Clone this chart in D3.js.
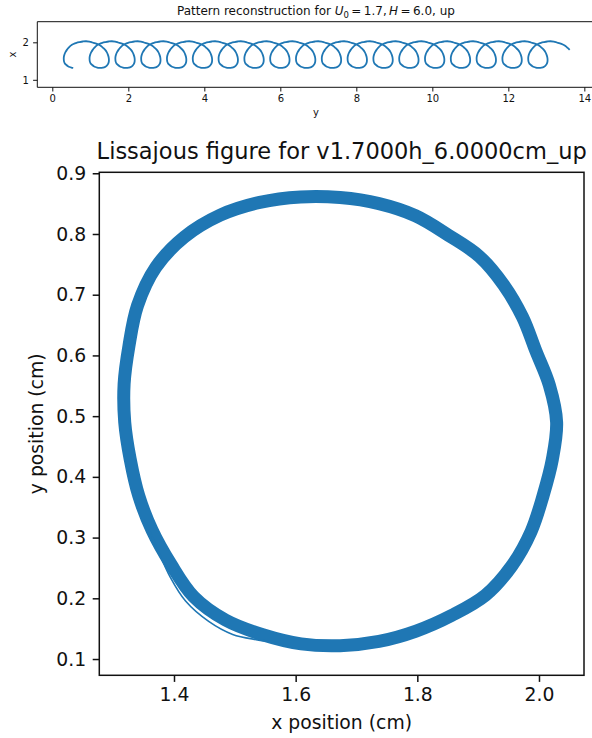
<!DOCTYPE html>
<html>
<head>
<meta charset="utf-8">
<script src="https://cdn.jsdelivr.net/npm/d3@7"></script>
<style>
  body { margin: 0; background: #fff; }
  svg { display: block; }
  text { font-family: "DejaVu Sans", sans-serif; fill: #111; }
</style>
</head>
<body>
<script>
// Tracked orbit of one cycle (cm), sampled counter-clockwise from the leftmost point.
const orbitX = [1.319,1.328,1.342,1.364,1.395,1.432,1.485,1.546,1.609,1.673,1.737,1.798,
                1.857,1.912,1.955,1.987,2.007,2.022,2.029,2.017,1.995,1.973,1.942,1.902,
                1.851,1.797,1.737,1.673,1.608,1.541,1.476,1.417,1.370,1.340,1.326,1.318];
const orbitY = [0.490,0.429,0.369,0.312,0.256,0.203,0.164,0.140,0.125,0.122,0.129,0.146,
                0.172,0.205,0.253,0.310,0.370,0.429,0.490,0.551,0.607,0.663,0.716,0.763,
                0.798,0.830,0.850,0.860,0.861,0.852,0.831,0.795,0.745,0.682,0.616,0.553];
// Time of each orbit sample within the cycle (fraction of one period).
const orbitPhase = [0.0000,0.0195,0.0392,0.0595,0.0804,0.1023,0.1253,0.1496,0.1752,0.2023,
                    0.2308,0.2607,0.2920,0.3245,0.3582,0.3928,0.4281,0.4639,0.5000,0.5361,
                    0.5719,0.6072,0.6418,0.6755,0.7080,0.7393,0.7692,0.7978,0.8248,0.8504,
                    0.8747,0.8977,0.9196,0.9405,0.9608,0.9805];

// One cycle that strays outside the main band on the lower left.
const strayX = [1.352,1.371,1.394,1.419,1.457,1.4965,1.535,1.570];
const strayY = [0.330,0.285,0.2345,0.1955,0.162,0.1405,0.132,0.1275];

// Reconstruction parameters: drift along y per cycle, start offset, cycles drawn.
const driftPerCycle = 0.679;
const startOffset = 0.06;
const fullCycles = 18;
const lastCycleSamples = 26;

// Tick values
const topXTicks = [0, 2, 4, 6, 8, 10, 12, 14];
const topYTicks = [1, 2];
const lisXTicks = [1.4, 1.6, 1.8, 2.0];
const lisYTicks = [0.1, 0.2, 0.3, 0.4, 0.5, 0.6, 0.7, 0.8, 0.9];

const W = 592, H = 738;
const blue = "#1f77b4";
const ink = "#111";
const svg = d3.select("body").append("svg").attr("width", W).attr("height", H);

// ---------- Pattern reconstruction panel ----------
const patBox = { left: 37.3, right: 594.6, top: 21.7, bottom: 87.3 };
const tx = d3.scaleLinear().domain([-0.395, 14.27]).range([patBox.left, patBox.right]);
const ty = d3.scaleLinear().domain([0.80, 2.55]).range([patBox.bottom, patBox.top]);

const N = orbitX.length;
const pattern = d3.range(fullCycles * N + lastCycleSamples).map(i => {
  const k = i % N, cycle = Math.floor(i / N);
  return { h: orbitY[k] + startOffset + driftPerCycle * (cycle + orbitPhase[k]), v: orbitX[k] };
});

svg.append("defs").append("clipPath").attr("id", "clipTop")
  .append("rect").attr("x", patBox.left).attr("y", patBox.top)
  .attr("width", patBox.right - patBox.left).attr("height", patBox.bottom - patBox.top);

svg.append("path")
  .datum(pattern)
  .attr("clip-path", "url(#clipTop)")
  .attr("fill", "none")
  .attr("stroke", blue)
  .attr("stroke-width", 1.8)
  .attr("stroke-linejoin", "round")
  .attr("d", d3.line().x(d => tx(d.h)).y(d => ty(d.v)).curve(d3.curveCatmullRom));

const topXAxis = svg.append("g")
  .attr("transform", `translate(0,${patBox.bottom})`)
  .call(d3.axisBottom(tx).tickValues(topXTicks).tickFormat(d3.format("d"))
    .tickSize(4.2).tickPadding(3.6).tickSizeOuter(0));
const topYAxis = svg.append("g")
  .attr("transform", `translate(${patBox.left},0)`)
  .call(d3.axisLeft(ty).tickValues(topYTicks).tickFormat(d3.format("d"))
    .tickSize(4.2).tickPadding(4.2).tickSizeOuter(0));
[topXAxis, topYAxis].forEach(g => {
  g.select(".domain").remove();
  g.selectAll(".tick line").attr("stroke", ink).attr("stroke-width", 1);
  g.selectAll(".tick text").attr("font-family", "DejaVu Sans").attr("font-size", 10).attr("fill", ink);
});

// spines (the right one falls outside the page)
svg.append("path")
  .attr("d", `M${patBox.right},${patBox.top}H${patBox.left}V${patBox.bottom}H${patBox.right}`)
  .attr("fill", "none").attr("stroke", ink).attr("stroke-width", 1);

svg.append("text").attr("x", (patBox.left + patBox.right) / 2).attr("y", 116)
  .attr("text-anchor", "middle").attr("font-size", 10).text("y");
svg.append("text").attr("transform", `translate(16,${(patBox.top + patBox.bottom) / 2}) rotate(-90)`)
  .attr("text-anchor", "middle").attr("font-size", 10).text("x");

const tTitle = svg.append("text").attr("x", (patBox.left + patBox.right) / 2).attr("y", 15)
  .attr("text-anchor", "middle").attr("font-size", 12);
tTitle.append("tspan").text("Pattern reconstruction for ");
tTitle.append("tspan").attr("font-style", "italic").text("U");
tTitle.append("tspan").attr("font-size", 8.5).attr("dy", 2.5).text("0");
tTitle.append("tspan").attr("dy", -2.5).text("\u2009=\u20091.7,\u2009");
tTitle.append("tspan").attr("font-style", "italic").text("H");
tTitle.append("tspan").text("\u2009=\u20096.0, up");

// ---------- Lissajous panel ----------
const lis = { left: 99.3, right: 584, top: 172.3, bottom: 675.3 };
const bx = d3.scaleLinear().domain([1.2772, 2.074]).range([lis.left, lis.right]);
const by = d3.scaleLinear().domain([0.0732, 0.9016]).range([lis.bottom, lis.top]);

svg.append("defs").append("clipPath").attr("id", "clipLis")
  .append("rect").attr("x", lis.left).attr("y", lis.top)
  .attr("width", lis.right - lis.left).attr("height", lis.bottom - lis.top);

const orbit = orbitX.map((x, i) => [x, orbitY[i]]);
const stray = strayX.map((x, i) => [x, strayY[i]]);

const gLis = svg.append("g").attr("clip-path", "url(#clipLis)");
gLis.append("path")
  .datum(orbit)
  .attr("fill", "none")
  .attr("stroke", blue)
  .attr("stroke-width", 13)
  .attr("stroke-linejoin", "round")
  .attr("d", d3.line().x(d => bx(d[0])).y(d => by(d[1])).curve(d3.curveCatmullRomClosed));
gLis.append("path")
  .datum(stray)
  .attr("fill", "none")
  .attr("stroke", blue)
  .attr("stroke-width", 1.6)
  .attr("d", d3.line().x(d => bx(d[0])).y(d => by(d[1])).curve(d3.curveCatmullRom));

const lisXAxis = svg.append("g")
  .attr("transform", `translate(0,${lis.bottom})`)
  .call(d3.axisBottom(bx).tickValues(lisXTicks).tickFormat(d3.format(".1f"))
    .tickSize(6.6).tickPadding(5.5).tickSizeOuter(0));
const lisYAxis = svg.append("g")
  .attr("transform", `translate(${lis.left},0)`)
  .call(d3.axisLeft(by).tickValues(lisYTicks).tickFormat(d3.format(".1f"))
    .tickSize(6.6).tickPadding(6.6).tickSizeOuter(0));
[lisXAxis, lisYAxis].forEach(g => {
  g.select(".domain").remove();
  g.selectAll(".tick line").attr("stroke", ink).attr("stroke-width", 1.5);
  g.selectAll(".tick text").attr("font-family", "DejaVu Sans").attr("font-size", 18.8).attr("fill", ink);
});

svg.append("rect")
  .attr("x", lis.left).attr("y", lis.top)
  .attr("width", lis.right - lis.left).attr("height", lis.bottom - lis.top)
  .attr("fill", "none").attr("stroke", ink).attr("stroke-width", 1.5);

svg.append("text").attr("x", (lis.left + lis.right) / 2).attr("y", 729)
  .attr("text-anchor", "middle").attr("font-size", 18.8).text("x position (cm)");
svg.append("text").attr("transform", `translate(43,${(lis.top + lis.bottom) / 2}) rotate(-90)`)
  .attr("text-anchor", "middle").attr("font-size", 18.8).text("y position (cm)");

svg.append("text").attr("x", (lis.left + lis.right) / 2).attr("y", 159)
  .attr("text-anchor", "middle").attr("font-size", 22.5)
  .text("Lissajous figure for v1.7000h_6.0000cm_up");
</script>
</body>
</html>
